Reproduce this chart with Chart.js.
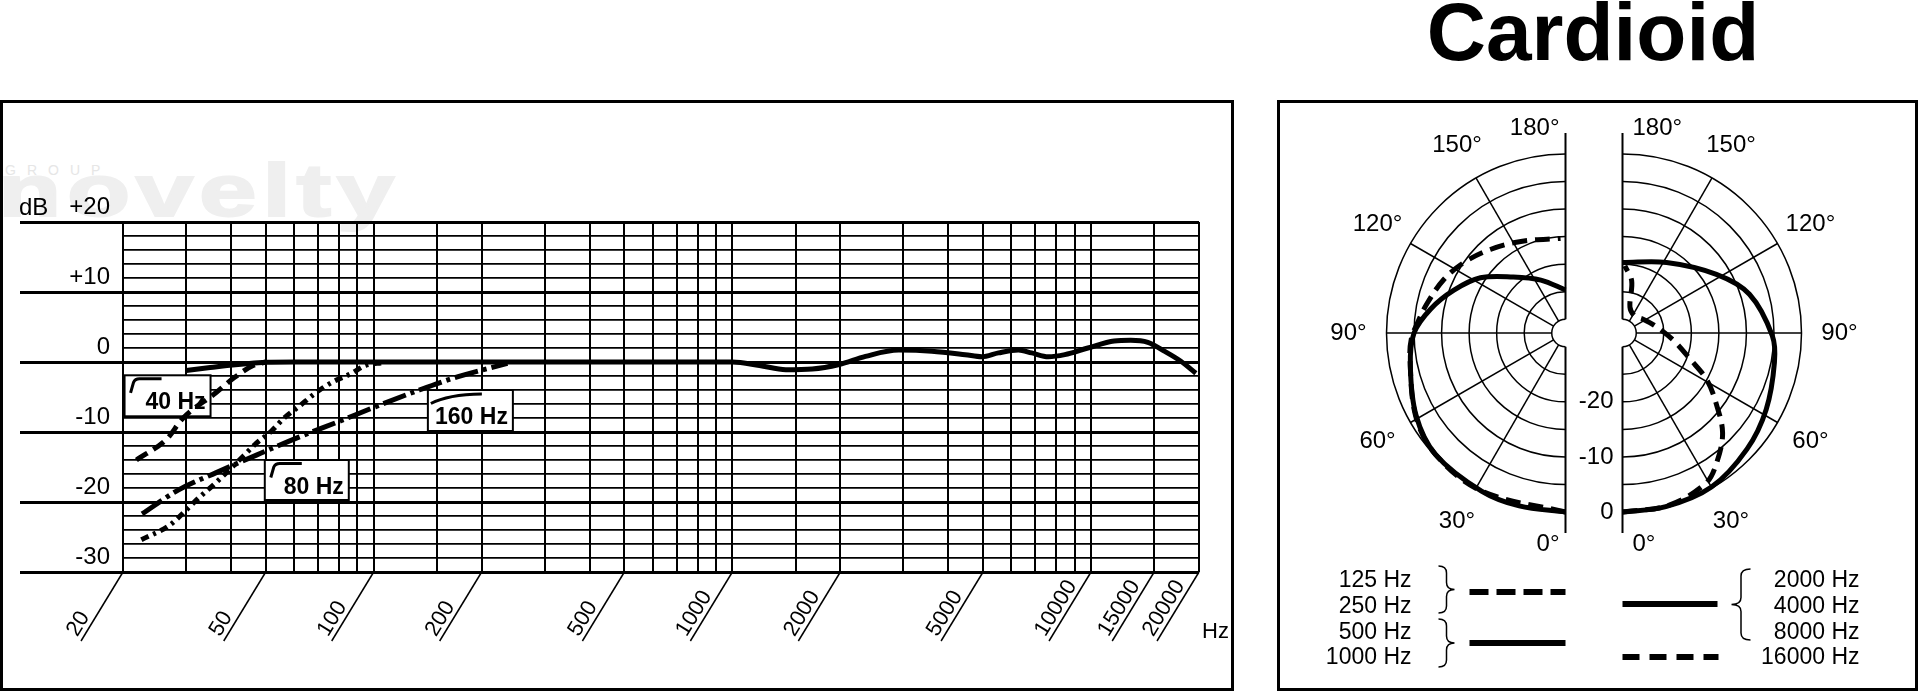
<!DOCTYPE html>
<html>
<head>
<meta charset="utf-8">
<script src="https://cdn.jsdelivr.net/npm/chart.js@4.4.1/dist/chart.umd.min.js"></script>
<style>
  html, body { margin: 0; padding: 0; background: #fff; }
  body { width: 1920px; height: 691px; position: relative; overflow: hidden; font-family: "Liberation Sans", Arial, sans-serif; }
  .panel { position: absolute; box-sizing: border-box; border: 3px solid #000; }
  #freqPanel { left: 0; top: 100px; width: 1234px; height: 591px; }
  #polarPanel { left: 1277px; top: 100px; width: 641px; height: 591px; }
  #title { position: absolute; left: 1393px; width: 400px; top: -9px; text-align: center; font-weight: bold; font-size: 82px; line-height: 82px; }
  .mark { position: absolute; white-space: nowrap; transform-origin: 0 0; }
  #markGroup { left: 5px; top: 163px; font-size: 14px; line-height: 14px; letter-spacing: 11px; color: #e6e6e6; }
  #markName { left: -2px; top: 154px; font-size: 74px; line-height: 74px; letter-spacing: 4px; font-weight: bold;
              color: #efefef; -webkit-text-stroke: 2px #efefef; transform: scaleX(1.4); }
  canvas { position: absolute; }
</style>
</head>
<body>
<div class="mark" id="markGroup">GROUP</div>
<div class="mark" id="markName">novelty</div>
<div class="panel" id="freqPanel"></div>
<div class="panel" id="polarPanel"></div>
<div id="title">Cardioid</div>
<canvas id="freqChart" width="1240" height="691" style="left:0;top:0"></canvas>
<canvas id="polarChart" width="634" height="584" style="left:1280px;top:102px"></canvas>
<script>
const FONT = "'Liberation Sans', Arial, sans-serif";

// ---- frequency response data ----
const gridFreqs = [20, 30, 40, 50, 60, 70, 80, 90, 100, 150, 200, 300, 400, 500, 600, 700, 800, 900,
    1000, 1500, 2000, 3000, 4000, 5000, 6000, 7000, 8000, 9000, 10000, 15000, 20000];
const gridLevels = [-30, -28, -26, -24, -22, -20, -18, -16, -14, -12, -10, -8, -6, -4, -2,
    0, 2, 4, 6, 8, 10, 12, 14, 16, 18, 20];
const freqTickLabels = ["20", "50", "100", "200", "500", "1000", "2000", "5000", "10000", "15000", "20000"];
const levelTickLabels = ["+20", "+10", "0", "-10", "-20", "-30"];

const responseHz = [30, 35, 39, 45, 50, 60, 80, 100, 200, 500, 800, 1000, 1190, 1410, 1670, 1985, 2350,
    2910, 3600, 4460, 4960, 5520, 6270, 6830, 7600, 8450, 9800, 11600, 12900, 14400, 16000, 17800, 19600];
const responseDb = [-1.2, -0.8, -0.5, -0.2, -0.05, 0, 0, 0, 0, 0, 0, 0, -0.5, -1.1, -1.0, -0.35, 0.8,
    1.7, 1.55, 1.05, 0.75, 1.3, 1.7, 1.3, 0.75, 1.05, 2.0, 3.0, 3.1, 2.8, 1.55, 0.1, -1.6];

const cut40Hz = [21.8, 26.6, 29.3, 36.3, 40.7, 46.1, 50];
const cut40Db = [-14.0, -10.9, -8.1, -4.4, -2.3, -0.5, 0];

const cut80Hz = [22.5, 27, 29.8, 32.7, 36.2, 43.2, 47.1, 51.8, 56.3, 62.1, 68.9, 76.5, 86.2, 94.9, 106];
const cut80Db = [-25.4, -23.3, -21.3, -19.3, -17.3, -13.5, -11.6, -9.9, -8.0, -6.3, -4.4, -2.9, -1.7, -0.5, -0.1];

const cut160Hz = [22.6, 28.5, 36.4, 47.1, 62.1, 80, 101, 134, 172, 236];
const cut160Db = [-21.7, -18.3, -15.8, -13.3, -10.7, -8.5, -6.4, -4.0, -2.1, -0.2];

const cutLabels = ["40 Hz", "80 Hz", "160 Hz"];

// ---- polar data (angle in degrees, level in dB) ----
const lowSolidDeg = [0, 15, 28, 47, 61, 78, 90, 100, 111, 123, 137, 155, 180];
const lowSolidDb = [0, 0, 0, -0.2, -1.5, -3.7, -5.0, -7.6, -10.8, -14.1, -18.6, -21.9, -24.7];

const lowDashDeg = [0, 28, 47, 61, 81, 88, 93, 102, 114, 125, 138, 154, 177];
const lowDashDb = [0, 0, -0.2, -1.4, -3.9, -4.5, -5.4, -6.8, -8.4, -10.1, -12.1, -14.0, -15.3];

const highSolidDeg = [0, 14, 30, 47, 62, 79, 89, 107, 122, 148, 180];
const highSolidDb = [0, 0, -0.2, -1.6, -2.95, -4.4, -5.3, -8.4, -12.4, -17.4, -19.7];

const highDashDeg = [0, 15, 29, 36, 45, 53, 61, 69, 82, 103, 124, 145, 164, 170, 178];
const highDashDb = [0, -0.1, -1.3, -3.4, -6.8, -11.2, -15.0, -19.4, -23.2, -26.5, -28.0, -28.7, -27.6, -22.9, -20.3];

const ringLevels = [-30, -25, -20, -15, -10, -5, 0];
const spokeAngles = [30, 60, 90, 120, 150];
const angleLabels = ["0°", "30°", "60°", "90°", "120°", "150°", "180°"];
const ringLabels = ["-20", "-10", "0"];
const legendLowLabels = ["125 Hz", "250 Hz", "500 Hz", "1000 Hz"];
const legendHighLabels = ["2000 Hz", "4000 Hz", "8000 Hz", "16000 Hz"];

// ---- layout of the small filter badges (top-left corner in Hz / dB, size in px) ----
const badgeLayout = [
    { hz: 20.2, db: -1.9, w: 86, h: 41, curve: "sharp" },
    { hz: 49.7, db: -14.0, w: 84, h: 40, curve: "sharp" },
    { hz: 141.6, db: -4.0, w: 85, h: 41, curve: "soft" }
];

function toPoints(xs, ys) {
    return xs.map((v, i) => ({ x: v, y: ys[i] }));
}

function curveStyle(dash) {
    return {
        showLine: true,
        borderColor: "#000",
        borderWidth: 5,
        borderDash: dash,
        pointRadius: 0,
        cubicInterpolationMode: "monotone",
        fill: false
    };
}

const freqDecor = {
    id: "freqDecor",
    beforeDatasetsDraw(chart) {
        const { ctx, scales: { x, y } } = chart;
        ctx.save();
        badgeLayout.forEach((b, i) => {
            const left = x.getPixelForValue(b.hz);
            const top = y.getPixelForValue(b.db);
            ctx.fillStyle = "#fff";
            ctx.fillRect(left, top, b.w, b.h);
            ctx.strokeStyle = "#000";
            ctx.lineWidth = 2;
            ctx.strokeRect(left, top, b.w, b.h);
            ctx.lineWidth = 3;
            ctx.beginPath();
            if (b.curve === "sharp") {
                ctx.moveTo(left + 6, top + 17.5);
                ctx.lineTo(left + 9, top + 7);
                ctx.quadraticCurveTo(left + 10.5, top + 3.5, left + 15, top + 3.5);
                ctx.lineTo(left + 37, top + 3.5);
            } else {
                ctx.moveTo(left + 3, top + 13.5);
                ctx.quadraticCurveTo(left + 20, top + 4.5, left + 54, top + 4);
            }
            ctx.stroke();
            ctx.fillStyle = "#000";
            ctx.font = `bold 23px ${FONT}`;
            ctx.textAlign = "right";
            ctx.textBaseline = "alphabetic";
            ctx.fillText(cutLabels[i], left + b.w - 5, top + 34);
        });
        ctx.restore();
    },
    afterDraw(chart) {
        const { ctx, chartArea, scales: { x, y } } = chart;
        ctx.save();
        ctx.fillStyle = "#000";
        ctx.strokeStyle = "#000";

        ctx.font = `24px ${FONT}`;
        ctx.textBaseline = "alphabetic";
        ctx.textAlign = "left";
        ctx.fillText("dB", 19, y.getPixelForValue(20) - 7);
        ctx.textAlign = "right";
        levelTickLabels.forEach((lbl) => {
            ctx.fillText(lbl, 110, y.getPixelForValue(Number(lbl)) - 8);
        });

        const dx = -42, dy = 69;
        const ang = Math.atan2(dy, -dx);
        const yb = chartArea.bottom;
        ctx.lineWidth = 1.5;
        ctx.font = `22px ${FONT}`;
        ctx.textAlign = "left";
        freqTickLabels.forEach((lbl) => {
            const x0 = x.getPixelForValue(Number(lbl));
            const bx = x0 + dx, by = yb + dy;
            ctx.beginPath();
            ctx.moveTo(x0, yb);
            ctx.lineTo(bx, by);
            ctx.stroke();
            ctx.save();
            ctx.translate(bx - Math.sin(ang) * 5, by - Math.cos(ang) * 5);
            ctx.rotate(-ang);
            ctx.fillText(lbl, 1, 0);
            ctx.restore();
        });
        ctx.fillText("Hz", 1202, 638);
        ctx.restore();
    }
};

new Chart(document.getElementById("freqChart"), {
    type: "scatter",
    data: {
        datasets: [
            { data: toPoints(responseHz, responseDb), ...curveStyle([]) },
            { data: toPoints(cut40Hz, cut40Db), ...curveStyle([13, 7]) },
            { data: toPoints(cut80Hz, cut80Db), ...curveStyle([8, 5, 3, 5]) },
            { data: toPoints(cut160Hz, cut160Db), ...curveStyle([24, 5, 4, 5]) }
        ]
    },
    options: {
        responsive: false,
        animation: false,
        events: [],
        layout: { padding: { left: 20, right: 41, top: 222, bottom: 119 } },
        plugins: { legend: { display: false }, tooltip: { enabled: false } },
        scales: {
            x: {
                type: "logarithmic",
                min: 20,
                max: 20000,
                afterBuildTicks: (scale) => { scale.ticks = gridFreqs.map((v) => ({ value: v })); },
                afterFit: (scale) => { scale.height = 0; },
                ticks: { display: false },
                grid: { color: "#000", lineWidth: 2, drawTicks: false },
                border: { display: false }
            },
            y: {
                min: -30,
                max: 20,
                afterBuildTicks: (scale) => { scale.ticks = gridLevels.map((v) => ({ value: v })); },
                afterFit: (scale) => { scale.width = 103; },
                ticks: { display: false },
                grid: {
                    color: "#000",
                    lineWidth: (c) => (c.tick.value % 10 === 0 ? 3 : 1.8),
                    tickLength: 103,
                    tickWidth: 3,
                    tickColor: (c) => (c.tick.value % 10 === 0 ? "#000" : "rgba(0,0,0,0)")
                },
                border: { display: false }
            }
        }
    },
    plugins: [freqDecor]
});

// ---- polar plots ----
const DB_FLOOR = -32.5;
const PX_PER_UNIT = 179 / 32.5;
const POLAR_W = 634, POLAR_H = 584, ORIGIN_X = 314, ORIGIN_Y = 231;
const HALF_GAP = 28.5 / PX_PER_UNIT;

function polarPoints(deg, db, side) {
    return deg.map((a, i) => {
        const r = db[i] - DB_FLOOR;
        const t = a * Math.PI / 180;
        return { x: side * (HALF_GAP + r * Math.sin(t)), y: -r * Math.cos(t) };
    });
}

function polarStyle(dash) {
    return {
        showLine: true,
        borderColor: "#000",
        borderWidth: 5,
        borderDash: dash,
        pointRadius: 0,
        tension: 0.35,
        fill: false
    };
}

function drawBrace(ctx, xBase, top, bottom, w, dir) {
    const mid = (top + bottom) / 2;
    const xm = xBase + dir * w / 2;
    ctx.beginPath();
    ctx.moveTo(xBase, top);
    ctx.quadraticCurveTo(xm, top, xm, top + 7);
    ctx.lineTo(xm, mid - 7);
    ctx.quadraticCurveTo(xm, mid, xBase + dir * w, mid);
    ctx.quadraticCurveTo(xm, mid, xm, mid + 7);
    ctx.lineTo(xm, bottom - 7);
    ctx.quadraticCurveTo(xm, bottom, xBase, bottom);
    ctx.stroke();
}

function swatch(ctx, x1, x2, yy, dash) {
    ctx.save();
    ctx.lineWidth = 6;
    ctx.setLineDash(dash);
    ctx.beginPath();
    ctx.moveTo(x1, yy);
    ctx.lineTo(x2, yy);
    ctx.stroke();
    ctx.restore();
}

const polarGrid = {
    id: "polarGrid",
    beforeDatasetsDraw(chart) {
        const { ctx, scales: { x, y } } = chart;
        const len = (u) => x.getPixelForValue(u) - x.getPixelForValue(0);
        const cy = y.getPixelForValue(0);
        const rIn = len(ringLevels[0] - DB_FLOOR);
        const rOut = len(0 - DB_FLOOR);
        ctx.save();
        ctx.strokeStyle = "#000";
        ctx.fillStyle = "#000";
        [-1, 1].forEach((side) => {
            const cx = x.getPixelForValue(side * HALF_GAP);
            ctx.lineWidth = 1.5;
            ringLevels.forEach((lv) => {
                const r = len(lv - DB_FLOOR);
                ctx.beginPath();
                if (side < 0) ctx.arc(cx, cy, r, Math.PI / 2, Math.PI * 1.5);
                else ctx.arc(cx, cy, r, -Math.PI / 2, Math.PI / 2);
                ctx.stroke();
            });
            spokeAngles.forEach((a) => {
                const t = a * Math.PI / 180;
                ctx.beginPath();
                ctx.moveTo(cx + side * rIn * Math.sin(t), cy + rIn * Math.cos(t));
                ctx.lineTo(cx + side * rOut * Math.sin(t), cy + rOut * Math.cos(t));
                ctx.stroke();
            });
            ctx.lineWidth = 2;
            ctx.beginPath();
            ctx.moveTo(cx, cy - rIn);
            ctx.lineTo(cx, cy - rOut - 21);
            ctx.moveTo(cx, cy + rIn);
            ctx.lineTo(cx, cy + rOut + 21);
            ctx.stroke();

            ctx.font = `24px ${FONT}`;
            ctx.textAlign = "center";
            ctx.textBaseline = "middle";
            spokeAngles.forEach((a, i) => {
                const t = a * Math.PI / 180;
                ctx.fillText(angleLabels[i + 1], cx + side * 217 * Math.sin(t), cy + 217 * Math.cos(t));
            });
            ctx.textBaseline = "alphabetic";
            ctx.textAlign = side < 0 ? "right" : "left";
            const off = side < 0 ? -6 : 10;
            ctx.fillText(angleLabels[angleLabels.length - 1], cx + off, cy - 198);
            ctx.fillText(angleLabels[0], cx + off, cy + 218);
        });
        const cxR = x.getPixelForValue(HALF_GAP);
        ctx.textAlign = "right";
        ctx.textBaseline = "middle";
        ringLabels.forEach((lbl) => {
            ctx.fillText(lbl, cxR - 9, cy + len(Number(lbl) - DB_FLOOR));
        });
        ctx.restore();
    },
    afterDraw(chart) {
        const { ctx, scales: { x, y } } = chart;
        const cy = y.getPixelForValue(0);
        const cxL = x.getPixelForValue(-HALF_GAP);
        const cxR = x.getPixelForValue(HALF_GAP);
        const rows = [254, 280, 306, 331];
        ctx.save();
        ctx.fillStyle = "#000";
        ctx.strokeStyle = "#000";
        ctx.font = `23px ${FONT}`;
        ctx.textAlign = "right";
        ctx.textBaseline = "alphabetic";
        legendLowLabels.forEach((t, i) => ctx.fillText(t, cxL - 154, cy + rows[i]));
        legendHighLabels.forEach((t, i) => ctx.fillText(t, cxR + 237, cy + rows[i]));
        ctx.lineWidth = 1.5;
        drawBrace(ctx, cxL - 127, cy + 233, cy + 280, 16, 1);
        drawBrace(ctx, cxL - 127, cy + 286, cy + 334, 16, 1);
        drawBrace(ctx, cxR + 128, cy + 236, cy + 307, 19, -1);
        swatch(ctx, cxL - 96, cxL, cy + 259, [19, 8]);
        swatch(ctx, cxL - 96, cxL, cy + 310, []);
        swatch(ctx, cxR, cxR + 95, cy + 271, []);
        swatch(ctx, cxR, cxR + 96, cy + 324, [17, 10]);
        ctx.restore();
    }
};

new Chart(document.getElementById("polarChart"), {
    type: "scatter",
    data: {
        datasets: [
            { data: polarPoints(lowSolidDeg, lowSolidDb, -1), ...polarStyle([]) },
            { data: polarPoints(highSolidDeg, highSolidDb, 1), ...polarStyle([]) },
            { data: polarPoints(lowDashDeg, lowDashDb, -1), ...polarStyle([15, 8]) },
            { data: polarPoints(highDashDeg, highDashDb, 1), ...polarStyle([15, 8]) }
        ]
    },
    options: {
        responsive: false,
        animation: false,
        events: [],
        layout: { padding: 0 },
        plugins: { legend: { display: false }, tooltip: { enabled: false } },
        scales: {
            x: { display: false, min: -ORIGIN_X / PX_PER_UNIT, max: (POLAR_W - ORIGIN_X) / PX_PER_UNIT },
            y: { display: false, min: -(POLAR_H - ORIGIN_Y) / PX_PER_UNIT, max: ORIGIN_Y / PX_PER_UNIT }
        }
    },
    plugins: [polarGrid]
});
</script>
</body>
</html>
